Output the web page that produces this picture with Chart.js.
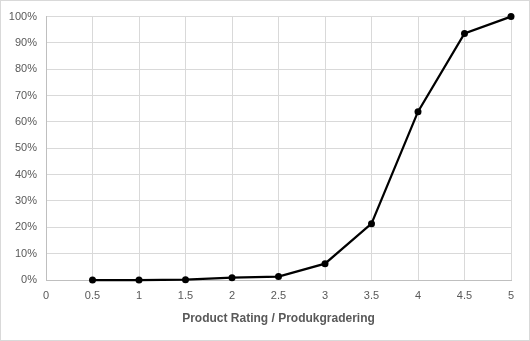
<!DOCTYPE html>
<html>
<head>
<meta charset="utf-8">
<script src="https://cdn.jsdelivr.net/npm/chart.js@4"></script>
<style>
	body { margin: 0; background: #fff; }
	#wrap { width: 530px; height: 341px; box-sizing: border-box; border: 1px solid #d9d9d9; }
</style>
</head>
<body>
<div id="wrap"><canvas id="rating" width="528" height="339"></canvas></div>
<script>

// product rating -> cumulative share
var ratings = [0.5, 1, 1.5, 2, 2.5, 3, 3.5, 4, 4.5, 5];
var shares = [0, 0, 0.1, 0.9, 1.3, 6.2, 21.4, 63.9, 93.6, 100];
var axisTitle = 'Product Rating / Produkgradering';

var points = [];
for (var i = 0; i < ratings.length; i++) {
	points.push({ x: ratings[i], y: shares[i] });
}

chartRating = new Chart(
	document.getElementById('rating'),
	{
		type: 'line',
		data: {
			datasets: [{
				data: points,
				borderColor: '#000',
				backgroundColor: '#000',
				borderWidth: 2.25,
				pointRadius: 3.5,
				pointBorderWidth: 0,
				tension: 0,
				clip: false
			}]
		},
		options: {
			responsive: false,
			animation: false,
			layout: { padding: { left: 0, right: 18, top: 12, bottom: 14 } },
			plugins: {
				legend: { display: false },
				tooltip: { enabled: false }
			},
			scales: {
				x: {
					type: 'linear',
					min: 0,
					max: 5,
					ticks: {
						stepSize: 0.5,
						color: '#595959',
						padding: 9,
						font: { family: 'Liberation Sans', size: 11 },
						callback: function(v) { return String(v); }
					},
					grid: { color: '#d9d9d9', drawTicks: false },
					border: { color: '#bfbfbf' },
					title: {
						display: true,
						text: axisTitle,
						color: '#595959',
						font: { family: 'Liberation Sans', size: 12, weight: 'bold' },
						padding: { top: 4, bottom: 0 }
					},
					afterFit: function(scale) { scale.height = 46; }
				},
				y: {
					min: 0,
					max: 100,
					ticks: {
						stepSize: 10,
						color: '#595959',
						padding: 9,
						font: { family: 'Liberation Sans', size: 11 },
						callback: function(v) { return v + '%'; }
					},
					grid: { color: '#d9d9d9', drawTicks: false },
					border: { color: '#bfbfbf' },
					afterFit: function(scale) { scale.width = 45; }
				}
			}
		}
	}
);
</script>
</body>
</html>
